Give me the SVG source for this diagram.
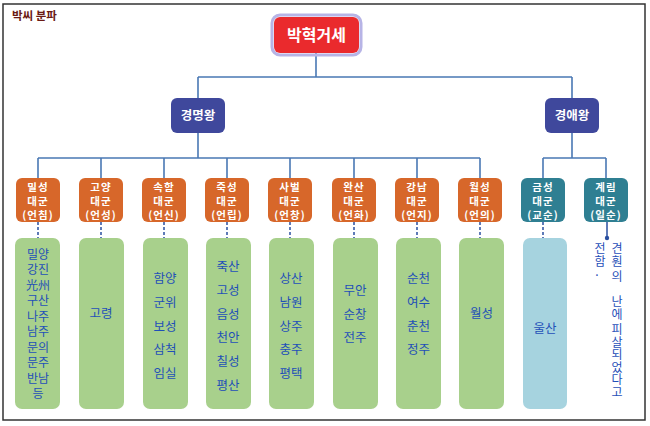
<svg xmlns="http://www.w3.org/2000/svg" width="650" height="426" viewBox="0 0 650 426">
<style>
text{font-family:"Noto Sans CJK KR","Noto Sans",sans-serif}
.conn{fill:none;stroke:#4a78b4;stroke-width:1.6}
.dash{fill:none;stroke:#2a4fa0;stroke-width:1.5;stroke-dasharray:3,2}
.org{fill:#d7672a}
.teal{fill:#2f7f92}
.king{fill:#3f489c}
.lv3{fill:#fff;font-size:10.5px;font-weight:bold;text-anchor:middle;letter-spacing:1px}
.grn{fill:#a8d08c}
.blu{fill:#a6d3df}
.place{fill:#1f4fb8;font-size:12.5px;text-anchor:middle}
.dense{font-size:12px}
.vert{fill:#1f4fb8;font-size:12px;text-anchor:middle}
</style>
<defs>
<marker id="dot" markerWidth="6" markerHeight="6" refX="3" refY="3" markerUnits="userSpaceOnUse">
<circle cx="3" cy="3" r="2.2" fill="#2a4fa0"/>
</marker>
</defs>
<rect x="3" y="4" width="642" height="416" fill="#fff" stroke="#333" stroke-width="1.5"/>
<text x="12" y="20" font-size="11.5" font-weight="bold" fill="#6b1a14">박씨 분파</text>

<g id="connectors">
<path class="conn" d="M316,53 V77 M198,77 H572 M198,77 V98 M572,77 V98"/>
<path class="conn" d="M198,133 V158 M38,158 H480 M38,158 V178 M101,158 V178 M164,158 V178 M227,158 V178 M290,158 V178 M354,158 V178 M417,158 V178 M480,158 V178"/>
<path class="conn" d="M572,133 V158 M543,158 H606 M543,158 V178 M606,158 V178"/>
<path class="dash" d="M38,222 V238 M101,222 V238 M164,222 V238 M227,222 V238 M290,222 V238 M354,222 V238 M417,222 V238 M480,222 V238 M543,222 V238"/>
<path d="M607,222 V238" stroke="#2a4fa0" stroke-width="1.5" fill="none" marker-end="url(#dot)"/>
</g>

<g id="root">
<rect x="272" y="15" width="89" height="40" rx="8" fill="none" stroke="#b7b4e6" stroke-width="3"/>
<rect x="274" y="17" width="85" height="36" rx="6" fill="#ea2a2d"/>
<text x="316.5" y="41" font-size="16" font-weight="bold" fill="#fff" text-anchor="middle">박혁거세</text>
</g>

<g id="gyeongmyeong">
<rect class="king" x="171" y="98" width="54" height="35" rx="6"/>
<text x="198" y="120" font-size="12.5" font-weight="bold" fill="#fff" text-anchor="middle">경명왕</text>
</g>
<g id="gyeongae">
<rect class="king" x="545" y="98" width="54" height="35" rx="6"/>
<text x="572" y="120" font-size="12.5" font-weight="bold" fill="#fff" text-anchor="middle">경애왕</text>
</g>

<g id="milseong">
<rect class="org" x="16" y="178" width="44" height="44" rx="6"/>
<text class="lv3" x="38" y="191">밀성</text><text class="lv3" x="38" y="205">대군</text><text class="lv3" x="38" y="219">(언침)</text>
</g>
<g id="goyang">
<rect class="org" x="79" y="178" width="44" height="44" rx="6"/>
<text class="lv3" x="101" y="191">고양</text><text class="lv3" x="101" y="205">대군</text><text class="lv3" x="101" y="219">(언성)</text>
</g>
<g id="sokham">
<rect class="org" x="142" y="178" width="44" height="44" rx="6"/>
<text class="lv3" x="164" y="191">속함</text><text class="lv3" x="164" y="205">대군</text><text class="lv3" x="164" y="219">(언신)</text>
</g>
<g id="juksung">
<rect class="org" x="205" y="178" width="44" height="44" rx="6"/>
<text class="lv3" x="227" y="191">죽성</text><text class="lv3" x="227" y="205">대군</text><text class="lv3" x="227" y="219">(언립)</text>
</g>
<g id="sabeol">
<rect class="org" x="268" y="178" width="44" height="44" rx="6"/>
<text class="lv3" x="290" y="191">사벌</text><text class="lv3" x="290" y="205">대군</text><text class="lv3" x="290" y="219">(언창)</text>
</g>
<g id="wansan">
<rect class="org" x="332" y="178" width="44" height="44" rx="6"/>
<text class="lv3" x="354" y="191">완산</text><text class="lv3" x="354" y="205">대군</text><text class="lv3" x="354" y="219">(언화)</text>
</g>
<g id="gangnam">
<rect class="org" x="395" y="178" width="44" height="44" rx="6"/>
<text class="lv3" x="417" y="191">강남</text><text class="lv3" x="417" y="205">대군</text><text class="lv3" x="417" y="219">(언지)</text>
</g>
<g id="wolseong">
<rect class="org" x="458" y="178" width="44" height="44" rx="6"/>
<text class="lv3" x="480" y="191">월성</text><text class="lv3" x="480" y="205">대군</text><text class="lv3" x="480" y="219">(언의)</text>
</g>
<g id="geumseong">
<rect class="teal" x="521" y="178" width="44" height="44" rx="6"/>
<text class="lv3" x="543" y="191">금성</text><text class="lv3" x="543" y="205">대군</text><text class="lv3" x="543" y="219">(교순)</text>
</g>
<g id="gyerim">
<rect class="teal" x="584" y="178" width="44" height="44" rx="6"/>
<text class="lv3" x="606" y="191">계림</text><text class="lv3" x="606" y="205">대군</text><text class="lv3" x="606" y="219">(일순)</text>
</g>

<g id="places1">
<rect class="grn" x="15" y="238" width="45" height="171" rx="7"/>
<text class="place dense" x="38" y="258.5">밀양</text>
<text class="place dense" x="38" y="274">강진</text>
<text class="place dense" x="38" y="289.5">光州</text>
<text class="place dense" x="38" y="305">구산</text>
<text class="place dense" x="38" y="320.5">나주</text>
<text class="place dense" x="38" y="336">남주</text>
<text class="place dense" x="38" y="351.5">문의</text>
<text class="place dense" x="38" y="367">문주</text>
<text class="place dense" x="38" y="382.5">반남</text>
<text class="place dense" x="38" y="398">등</text>
</g>
<g id="places2">
<rect class="grn" x="79" y="238" width="45" height="171" rx="7"/>
<text class="place" x="101" y="318">고령</text>
</g>
<g id="places3">
<rect class="grn" x="143" y="238" width="45" height="171" rx="7"/>
<text class="place" x="165" y="283">함양</text>
<text class="place" x="165" y="307">군위</text>
<text class="place" x="165" y="331">보성</text>
<text class="place" x="165" y="354">삼척</text>
<text class="place" x="165" y="378">임실</text>
</g>
<g id="places4">
<rect class="grn" x="206" y="238" width="45" height="171" rx="7"/>
<text class="place" x="228" y="271">죽산</text>
<text class="place" x="228" y="295">고성</text>
<text class="place" x="228" y="318.5">음성</text>
<text class="place" x="228" y="342">천안</text>
<text class="place" x="228" y="366">칠성</text>
<text class="place" x="228" y="390">평산</text>
</g>
<g id="places5">
<rect class="grn" x="269" y="238" width="45" height="171" rx="7"/>
<text class="place" x="291" y="283">상산</text>
<text class="place" x="291" y="307">남원</text>
<text class="place" x="291" y="330.5">상주</text>
<text class="place" x="291" y="354">충주</text>
<text class="place" x="291" y="378">평택</text>
</g>
<g id="places6">
<rect class="grn" x="333" y="238" width="45" height="171" rx="7"/>
<text class="place" x="355" y="295">무안</text>
<text class="place" x="355" y="318.5">순창</text>
<text class="place" x="355" y="342">전주</text>
</g>
<g id="places7">
<rect class="grn" x="396" y="238" width="45" height="171" rx="7"/>
<text class="place" x="418.5" y="283">순천</text>
<text class="place" x="418.5" y="307">여수</text>
<text class="place" x="418.5" y="331">춘천</text>
<text class="place" x="418.5" y="354">정주</text>
</g>
<g id="places8">
<rect class="grn" x="459" y="238" width="45" height="171" rx="7"/>
<text class="place" x="481.5" y="318">월성</text>
</g>
<g id="places9">
<rect class="blu" x="523" y="238" width="44" height="171" rx="7"/>
<text class="place" x="545" y="333">울산</text>
</g>
<g id="note">
<text class="vert"><tspan x="617" y="253">견</tspan><tspan x="617" y="266">훤</tspan><tspan x="617" y="281">의</tspan><tspan x="617" y="293"> </tspan><tspan x="617" y="306">난</tspan><tspan x="617" y="319">에</tspan><tspan x="617" y="326"> </tspan><tspan x="617" y="334">피</tspan><tspan x="617" y="346.5">살</tspan><tspan x="617" y="359">되</tspan><tspan x="617" y="371.5">었</tspan><tspan x="617" y="384">다</tspan><tspan x="617" y="396.5">고</tspan></text>
<text class="vert"><tspan x="600" y="253">전</tspan><tspan x="600" y="266">함</tspan><tspan x="597" y="276">.</tspan></text>
</g>
</svg>
